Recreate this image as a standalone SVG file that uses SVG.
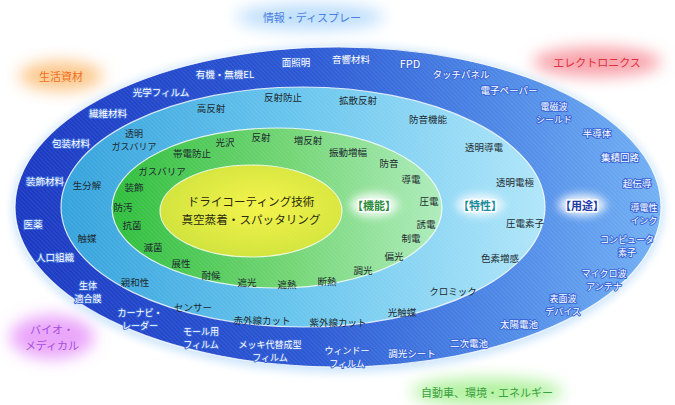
<svg xmlns="http://www.w3.org/2000/svg" width="675" height="405" viewBox="0 0 675 405">
<style>
text{font-family:"Noto Sans CJK JP","Noto Sans",sans-serif;text-anchor:middle;dominant-baseline:central}
.o{font-size:9.5px;fill:#ffffff;stroke:#3b68d8;stroke-width:2px;paint-order:stroke;stroke-linejoin:round}
.m{font-size:9.5px;fill:#1e2a30}
.t{font-size:9px}
.c{font-size:11.6px;fill:#2a2a10}
.k{font-size:11px;font-weight:bold;stroke:#ffffff;stroke-width:3px;paint-order:stroke;stroke-linejoin:round}
.cat{font-size:11px}
.ring{stroke:#ffffff;stroke-opacity:0.8;stroke-width:1.2}
</style>
<defs>
<linearGradient id="gOuter" x1="0" y1="0" x2="1" y2="0">
<stop offset="0" stop-color="#1a38c2"/>
<stop offset="0.45" stop-color="#2b58d4"/>
<stop offset="0.75" stop-color="#4d88e6"/>
<stop offset="1" stop-color="#72b0f4"/>
</linearGradient>
<linearGradient id="gMid" x1="0" y1="0" x2="1" y2="0">
<stop offset="0" stop-color="#34a2dc"/>
<stop offset="0.5" stop-color="#6ac6ee"/>
<stop offset="1" stop-color="#b0e6fa"/>
</linearGradient>
<linearGradient id="gGreen" x1="0" y1="0" x2="1" y2="0">
<stop offset="0" stop-color="#2ebe3c"/>
<stop offset="0.55" stop-color="#74d676"/>
<stop offset="1" stop-color="#aeecbc"/>
</linearGradient>
<radialGradient id="gCore" cx="0.55" cy="0.45" r="0.6">
<stop offset="0" stop-color="#f4f44a"/>
<stop offset="1" stop-color="#cfe23a"/>
</radialGradient>
<pattern id="hatch" width="3" height="3" patternUnits="userSpaceOnUse" patternTransform="rotate(-45)">
<line x1="0" y1="0" x2="0" y2="3" stroke="#ffffff" stroke-opacity="0.16" stroke-width="1"/>
</pattern>
<filter id="blur" x="-50%" y="-50%" width="200%" height="200%"><feGaussianBlur stdDeviation="8"/></filter>
<filter id="blur2" x="-50%" y="-50%" width="200%" height="200%"><feGaussianBlur stdDeviation="4"/></filter>
</defs>
<rect width="675" height="405" fill="#ffffff"/>

<g id="categories">
<ellipse cx="310" cy="17" rx="74" ry="13" fill="#bcdefc" filter="url(#blur)"/>
<text class="cat" x="312" y="17" fill="#4a7ee0">情報・ディスプレー</text>
<ellipse cx="597" cy="62" rx="64" ry="15" fill="#f8a2aa" filter="url(#blur)"/>
<text class="cat" x="597" y="62" fill="#e0303c">エレクトロニクス</text>
<ellipse cx="61" cy="76" rx="42" ry="15" fill="#fcc88c" filter="url(#blur)"/>
<text class="cat" x="61" y="76" fill="#f07020">生活資材</text>
<ellipse cx="52" cy="337" rx="42" ry="22" fill="#eaa6fa" filter="url(#blur)"/>
<text class="cat" fill="#a44ee0"><tspan x="52" y="329">バイオ・</tspan><tspan x="52" y="345">メディカル</tspan></text>
<ellipse cx="487" cy="392" rx="76" ry="14" fill="#b2f2a0" filter="url(#blur)"/>
<text class="cat" x="487" y="392" fill="#3aa040">自動車、環境・エネルギー</text>
</g>

<g id="outer">
<ellipse cx="338" cy="209" rx="326" ry="164" fill="#cfe6fc" filter="url(#blur2)"/>
<ellipse cx="338" cy="207" rx="323" ry="160" fill="url(#gOuter)" class="ring"/>
<ellipse cx="338" cy="207" rx="323" ry="160" fill="url(#hatch)"/>
<text class="o" x="161" y="92">光学フィルム</text>
<text class="o" x="225" y="74">有機・無機EL</text>
<text class="o" x="296" y="62">面照明</text>
<text class="o" x="351" y="59">音響材料</text>
<text class="o" x="410" y="63" style="font-size:11px">FPD</text>
<text class="o" x="461" y="74">タッチパネル</text>
<text class="o" x="509" y="90">電子ペーパー</text>
<text class="o t"><tspan x="554" y="106">電磁波</tspan><tspan x="554" y="119.2">シールド</tspan></text>
<text class="o" x="597" y="133">半導体</text>
<text class="o" x="620" y="157">集積回路</text>
<text class="o" x="637" y="183">超伝導</text>
<text class="o t"><tspan x="644" y="207">導電性</tspan><tspan x="644" y="220.2">インク</tspan></text>
<text class="o t"><tspan x="627" y="239">コンピュータ</tspan><tspan x="627" y="252.2">素子</tspan></text>
<text class="o t"><tspan x="604" y="272.5">マイクロ波</tspan><tspan x="604" y="285.7">アンテナ</tspan></text>
<text class="o t"><tspan x="563" y="297.5">表面波</tspan><tspan x="563" y="310.7">デバイス</tspan></text>
<text class="o" x="519" y="324">太陽電池</text>
<text class="o" x="469" y="343">二次電池</text>
<text class="o" x="412" y="353">調光シート</text>
<text class="o t"><tspan x="347" y="349.5">ウィンドー</tspan><tspan x="347" y="362.7">フィルム</tspan></text>
<text class="o t"><tspan x="270" y="344">メッキ代替成型</tspan><tspan x="270" y="357.2">フィルム</tspan></text>
<text class="o t"><tspan x="201" y="331">モール用</tspan><tspan x="201" y="344.2">フィルム</tspan></text>
<text class="o t"><tspan x="140" y="312">カーナビ・</tspan><tspan x="140" y="325.2">レーダー</tspan></text>
<text class="o t"><tspan x="88" y="284.5">生体</tspan><tspan x="88" y="297.7">適合膜</tspan></text>
<text class="o" x="55" y="257">人口組織</text>
<text class="o" x="33" y="224">医薬</text>
<text class="o" x="45" y="181">装飾材料</text>
<text class="o" x="71" y="143">包装材料</text>
<text class="o" x="108" y="113">繊維材料</text>
<ellipse cx="582" cy="205" rx="24" ry="11" fill="#ffffff" opacity="0.85" filter="url(#blur2)"/>
<text class="k" x="582" y="205" fill="#1a3aa8">【用途】</text>
</g>

<g id="characteristics">
<ellipse cx="303" cy="207" rx="242" ry="120" fill="url(#gMid)" class="ring"/>
<ellipse cx="303" cy="207" rx="242" ry="120" fill="url(#hatch)"/>
<text class="m" x="211" y="108">高反射</text>
<text class="m" x="283" y="97">反射防止</text>
<text class="m" x="358" y="100">拡散反射</text>
<text class="m" x="428" y="119">防音機能</text>
<text class="m" x="484" y="147">透明導電</text>
<text class="m" x="515" y="182">透明電極</text>
<text class="m" x="525" y="223">圧電素子</text>
<text class="m" x="500" y="258">色素増感</text>
<text class="m" x="453" y="291">クロミック</text>
<text class="m" x="402" y="312">光触媒</text>
<text class="m" x="338" y="322">紫外線カット</text>
<text class="m" x="262" y="320">赤外線カット</text>
<text class="m" x="193" y="307">センサー</text>
<text class="m" x="135" y="282">親和性</text>
<text class="m" x="87" y="238">触媒</text>
<text class="m" x="87" y="185">生分解</text>
<text class="m t"><tspan x="134" y="133">透明</tspan><tspan x="134" y="146.2">ガスバリア</tspan></text>
<ellipse cx="480" cy="205" rx="24" ry="11" fill="#ffffff" opacity="0.8" filter="url(#blur2)"/>
<text class="k" x="480" y="205" fill="#1a8c9c">【特性】</text>
</g>

<g id="functions">
<ellipse cx="277" cy="208" rx="165" ry="80" fill="url(#gGreen)" class="ring"/>
<ellipse cx="277" cy="208" rx="165" ry="80" fill="url(#hatch)"/>
<text class="m" x="225" y="142">光沢</text>
<text class="m" x="261" y="137">反射</text>
<text class="m" x="308" y="140">増反射</text>
<text class="m" x="348" y="152">振動増幅</text>
<text class="m" x="389" y="163">防音</text>
<text class="m" x="411" y="179">導電</text>
<text class="m" x="429" y="201">圧電</text>
<text class="m" x="426" y="224">誘電</text>
<text class="m" x="411" y="238">制電</text>
<text class="m" x="394" y="256">偏光</text>
<text class="m" x="363" y="270">調光</text>
<text class="m" x="327" y="281">断熱</text>
<text class="m" x="287" y="284">遮熱</text>
<text class="m" x="247" y="282">遮光</text>
<text class="m" x="211" y="275">耐候</text>
<text class="m" x="181" y="263">展性</text>
<text class="m" x="153" y="247">滅菌</text>
<text class="m" x="132" y="225">抗菌</text>
<text class="m" x="123" y="207">防汚</text>
<text class="m" x="134" y="187">装飾</text>
<text class="m" x="162" y="171">ガスバリア</text>
<text class="m" x="192" y="153">帯電防止</text>
<ellipse cx="374" cy="205" rx="24" ry="12" fill="#ffffff" opacity="0.85" filter="url(#blur2)"/>
<text class="k" x="374" y="205" fill="#2a8c3a">【機能】</text>
</g>

<g id="core">
<ellipse cx="251" cy="211" rx="91" ry="46" fill="url(#gCore)" class="ring"/>
<ellipse cx="251" cy="211" rx="91" ry="46" fill="url(#hatch)" opacity="0.6"/>
<text class="c"><tspan x="251" y="201.4">ドライコーティング技術</tspan><tspan x="251" y="218.6">真空蒸着・スパッタリング</tspan></text>
</g>

<g id="connectors"/>
</svg>
